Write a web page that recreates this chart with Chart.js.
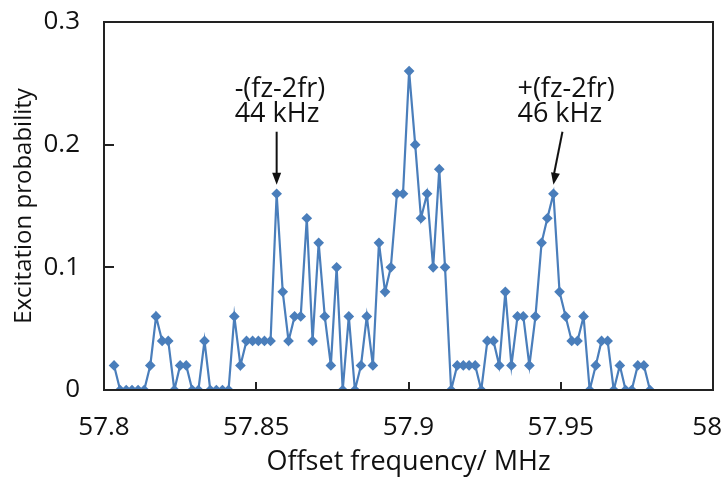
<!DOCTYPE html>
<html>
<head>
<meta charset="utf-8">
<script src="https://cdn.jsdelivr.net/npm/chart.js@4.4.1/dist/chart.umd.min.js"></script>
<style>
  html, body { margin: 0; padding: 0; background: #fff; }
  #wrap { width: 725px; height: 479px; position: relative; }
</style>
</head>
<body>
<div id="wrap"><canvas id="excitationChart"></canvas></div>
<script>
// Offset frequency (MHz)
const freqs = [
  57.8033, 57.8053, 57.8073, 57.8092, 57.8112, 57.8132, 57.8152, 57.8171, 57.8191, 57.8211,
  57.8231, 57.8250, 57.8270, 57.8290, 57.8310, 57.8330, 57.8349, 57.8369, 57.8389, 57.8409,
  57.8428, 57.8448, 57.8468, 57.8488, 57.8507, 57.8527, 57.8547, 57.8567, 57.8587, 57.8606,
  57.8626, 57.8646, 57.8666, 57.8685, 57.8705, 57.8725, 57.8745, 57.8764, 57.8784, 57.8804,
  57.8824, 57.8844, 57.8863, 57.8883, 57.8903, 57.8923, 57.8942, 57.8962, 57.8982, 57.9002,
  57.9022, 57.9041, 57.9061, 57.9081, 57.9101, 57.9120, 57.9140, 57.9160, 57.9180, 57.9199,
  57.9219, 57.9239, 57.9259, 57.9279, 57.9298, 57.9318, 57.9338, 57.9358, 57.9377, 57.9397,
  57.9417, 57.9437, 57.9456, 57.9476, 57.9496, 57.9516, 57.9536, 57.9555, 57.9575, 57.9595,
  57.9615, 57.9634, 57.9654, 57.9674, 57.9694, 57.9713, 57.9733, 57.9753, 57.9773, 57.9793
];

// Excitation probability
const probs = [
  0.02, 0, 0, 0, 0, 0, 0.02, 0.06, 0.04, 0.04,
  0, 0.02, 0.02, 0, 0, 0.04, 0, 0, 0, 0,
  0.06, 0.02, 0.04, 0.04, 0.04, 0.04, 0.04, 0.16, 0.08, 0.04,
  0.06, 0.06, 0.14, 0.04, 0.12, 0.06, 0.02, 0.10, 0, 0.06,
  0, 0.02, 0.06, 0.02, 0.12, 0.08, 0.10, 0.16, 0.16, 0.26,
  0.20, 0.14, 0.16, 0.10, 0.18, 0.10, 0, 0.02, 0.02, 0.02,
  0.02, 0, 0.04, 0.04, 0.02, 0.08, 0.02, 0.06, 0.06, 0.02,
  0.06, 0.12, 0.14, 0.16, 0.08, 0.06, 0.04, 0.04, 0.06, 0,
  0.02, 0.04, 0.04, 0, 0.02, 0, 0, 0.02, 0.02, 0
];

const xTicks = [57.8, 57.85, 57.9, 57.95, 58];
const xTickLabels = ['57.8', '57.85', '57.9', '57.95', '58'];
const yTicks = [0, 0.1, 0.2, 0.3];

// sideband labels, pointing at the two side peaks
const sidebandIdx = [27, 73];
const sidebandText = [['-(fz-2fr)', '44 kHz'], ['+(fz-2fr)', '46 kHz']];

const FONT = "'Open Sans', 'DejaVu Sans', sans-serif";
const TEXT = '#111';
const BLUE = '#4a7ebb';

// box round the plot, inward tick marks, x labels kept inside the canvas
const frameTicks = {
  id: 'frameTicks',
  afterDraw(chart) {
    const c = chart.ctx, a = chart.chartArea;
    const xs = chart.scales.x, ys = chart.scales.y;
    c.save();
    c.strokeStyle = '#222';
    c.lineWidth = 2;
    c.strokeRect(a.left, a.top, a.right - a.left, a.bottom - a.top);
    c.beginPath();
    xTicks.forEach(v => {
      const px = Math.round(xs.getPixelForValue(v));
      c.moveTo(px, a.bottom);
      c.lineTo(px, a.bottom - 8);
    });
    yTicks.forEach(v => {
      const py = Math.round(ys.getPixelForValue(v));
      c.moveTo(a.left, py);
      c.lineTo(a.left + 10, py);
    });
    c.stroke();

    c.font = '26px ' + FONT;
    c.fillStyle = TEXT;
    c.textAlign = 'center';
    c.textBaseline = 'middle';
    xTicks.forEach((v, i) => {
      const w = c.measureText(xTickLabels[i]).width;
      const px = Math.min(xs.getPixelForValue(v), chart.width - 3 - w / 2);
      c.fillText(xTickLabels[i], px, a.bottom + 38);
    });
    c.restore();
  }
};

const sidebandNotes = {
  id: 'sidebandNotes',
  afterDatasetsDraw(chart) {
    const c = chart.ctx;
    const xs = chart.scales.x, ys = chart.scales.y;
    c.save();
    c.font = '27px ' + FONT;
    c.strokeStyle = '#111';
    c.lineWidth = 2;
    c.textBaseline = 'middle';
    sidebandIdx.forEach((idx, k) => {
      const px = xs.getPixelForValue(freqs[idx]);
      const py = ys.getPixelForValue(probs[idx]);
      const lean = k === 0 ? 0 : 9;
      const tx = k === 0 ? px - 42 : px - 36;
      c.fillStyle = TEXT;
      c.fillText(sidebandText[k][0], tx, py - 104);
      c.fillText(sidebandText[k][1], tx, py - 79);
      // arrow
      const x0 = px + lean, y0 = py - 62, x1 = px, y1 = py - 9;
      c.beginPath();
      c.moveTo(x0, y0);
      c.lineTo(x1, y1 - 8);
      c.stroke();
      const ang = Math.atan2(y1 - y0, x1 - x0);
      c.beginPath();
      c.moveTo(x1, y1);
      c.lineTo(x1 - 12 * Math.cos(ang) + 4.5 * Math.sin(ang), y1 - 12 * Math.sin(ang) - 4.5 * Math.cos(ang));
      c.lineTo(x1 - 12 * Math.cos(ang) - 4.5 * Math.sin(ang), y1 - 12 * Math.sin(ang) + 4.5 * Math.cos(ang));
      c.closePath();
      c.fillStyle = '#111';
      c.fill();
    });
    c.restore();
  }
};

const ctx = document.getElementById('excitationChart').getContext('2d');
new Chart(ctx, {
  type: 'line',
  data: {
    datasets: [{
      label: 'Excitation probability',
      data: freqs.map((f, i) => ({ x: f, y: probs[i] })),
      borderColor: BLUE,
      backgroundColor: BLUE,
      borderWidth: 2.2,
      pointStyle: 'rectRot',
      pointRadius: 3.8,
      pointHoverRadius: 3.8,
      tension: 0,
      fill: false
    }]
  },
  options: {
    responsive: true,
    maintainAspectRatio: false,
    animation: false,
    layout: { padding: { left: 0, right: 12, top: 22, bottom: 0 } },
    plugins: { legend: { display: false }, tooltip: { enabled: false } },
    scales: {
      x: {
        type: 'linear',
        min: 57.8,
        max: 58,
        afterBuildTicks: s => { s.ticks = xTicks.map(v => ({ value: v })); },
        afterFit: s => { s.height = 89; s.paddingLeft = 0; s.paddingRight = 0; },
        grid: { display: false, drawTicks: false },
        border: { display: false },
        ticks: { display: false },
        title: {
          display: true,
          text: 'Offset frequency/ MHz',
          color: TEXT,
          font: { family: FONT, size: 27 },
          padding: { top: 0, bottom: 0 }
        }
      },
      y: {
        min: 0,
        max: 0.3,
        afterBuildTicks: s => { s.ticks = yTicks.map(v => ({ value: v })); },
        afterFit: s => { s.width = 104; s.paddingTop = 0; s.paddingBottom = 0; },
        grid: { display: false, drawTicks: false },
        border: { display: false },
        ticks: {
          padding: 24,
          color: TEXT,
          font: { family: FONT, size: 26 },
          callback: v => String(parseFloat(v.toFixed(2)))
        },
        title: {
          display: true,
          text: 'Excitation probability',
          color: TEXT,
          font: { family: FONT, size: 24 },
          padding: { top: 10, bottom: 0 }
        }
      }
    }
  },
  plugins: [frameTicks, sidebandNotes]
});
</script>
</body>
</html>
